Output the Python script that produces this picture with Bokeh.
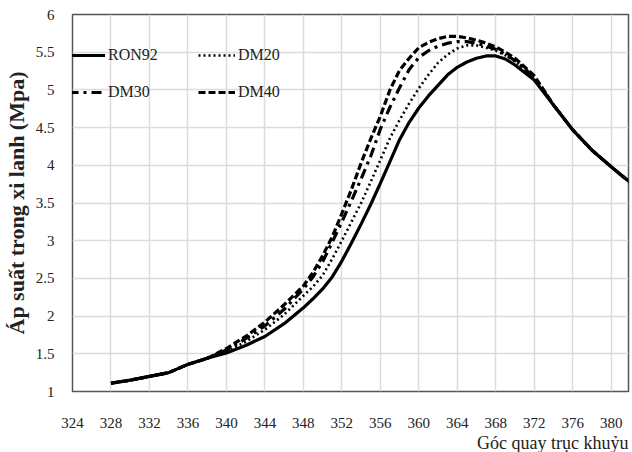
from bokeh.plotting import figure
from bokeh.models import Range1d, FixedTicker, Legend, LegendItem, Title
from bokeh.embed import file_html
from bokeh.resources import INLINE

# ---- data ----
angle = [328, 330, 332, 334, 336, 338, 340, 342, 344, 346, 348, 349, 350, 351, 352,
         353, 354, 355, 356, 357, 358, 359, 360, 361, 362, 363, 364, 365, 366, 367,
         368, 369, 370, 372, 374, 376, 378, 380, 382]

ron92 = [1.11, 1.15, 1.20, 1.25, 1.36, 1.44, 1.51, 1.61, 1.73, 1.90, 2.11, 2.23, 2.36, 2.52, 2.73,
         2.97, 3.22, 3.48, 3.76, 4.05, 4.34, 4.57, 4.76, 4.92, 5.06, 5.20, 5.30, 5.37, 5.42, 5.45,
         5.45, 5.41, 5.33, 5.13, 4.80, 4.47, 4.20, 3.98, 3.77]

dm20 = [1.11, 1.15, 1.20, 1.25, 1.36, 1.44, 1.53, 1.66, 1.82, 2.02, 2.27, 2.39, 2.54, 2.76, 3.00,
        3.25, 3.50, 3.78, 4.07, 4.36, 4.60, 4.82, 5.02, 5.20, 5.36, 5.47, 5.55, 5.59, 5.59, 5.56,
        5.52, 5.46, 5.38, 5.16, 4.80, 4.47, 4.20, 3.98, 3.77]

dm30 = [1.11, 1.15, 1.20, 1.25, 1.36, 1.44, 1.55, 1.70, 1.87, 2.09, 2.36, 2.52, 2.72, 2.98, 3.25,
        3.53, 3.82, 4.12, 4.48, 4.77, 5.03, 5.27, 5.43, 5.52, 5.58, 5.62, 5.64, 5.64, 5.62, 5.58,
        5.54, 5.47, 5.39, 5.17, 4.80, 4.47, 4.20, 3.98, 3.77]

dm40 = [1.11, 1.15, 1.20, 1.25, 1.36, 1.44, 1.57, 1.73, 1.92, 2.15, 2.40, 2.58, 2.80, 3.05, 3.36,
        3.68, 4.03, 4.35, 4.65, 5.00, 5.26, 5.42, 5.56, 5.63, 5.68, 5.71, 5.71, 5.69, 5.66, 5.62,
        5.57, 5.50, 5.42, 5.19, 4.80, 4.47, 4.20, 3.98, 3.77]

x_ticks = [324, 328, 332, 336, 340, 344, 348, 352, 356, 360, 364, 368, 372, 376, 380]
y_ticks = [1, 1.5, 2, 2.5, 3, 3.5, 4, 4.5, 5, 5.5, 6]
y_tick_labels = ["1", "1.5", "2", "2.5", "3", "3.5", "4", "4.5", "5", "5.5", "6"]

y_label = "Áp suất trong xi lanh (Mpa)"
x_label = "Góc quay trục khuỷu"

FONT = "Liberation Serif"

p = figure(width=632, height=452, output_backend="svg", toolbar_location=None,
           x_range=Range1d(324, 381.8), y_range=Range1d(1, 6),
           min_border_left=62, min_border_right=4, min_border_top=14, min_border_bottom=0)

p.background_fill_color = "white"
p.border_fill_color = "white"
p.outline_line_color = "#555555"
p.outline_line_width = 1.5

# grid
p.xgrid.ticker = FixedTicker(ticks=x_ticks)
p.ygrid.ticker = FixedTicker(ticks=y_ticks)
for g in (p.xgrid, p.ygrid):
    g.grid_line_color = "#dcdcdc"
    g.grid_line_width = 1.5

# axes
p.xaxis.ticker = FixedTicker(ticks=x_ticks)
p.yaxis.ticker = FixedTicker(ticks=y_ticks)
p.yaxis.major_label_overrides = {t: l for t, l in zip(y_ticks, y_tick_labels)}
for ax in (p.xaxis, p.yaxis):
    ax.axis_line_color = None
    ax.major_tick_line_color = None
    ax.minor_tick_line_color = None
    ax.major_label_text_font = FONT
    ax.major_label_text_font_size = "15px"
    ax.major_label_text_color = "#222222"
p.xaxis.major_label_standoff = 20
p.yaxis.major_label_standoff = 12

p.yaxis.axis_label = y_label
p.yaxis.axis_label_text_font = FONT
p.yaxis.axis_label_text_font_style = "bold"
p.yaxis.axis_label_text_font_size = "22px"
p.yaxis.axis_label_text_color = "#222222"
p.yaxis.axis_label_standoff = 4

# lines
r_ron = p.line(angle, ron92, line_color="black", line_width=3.2)
r_d20 = p.line(angle, dm20, line_color="black", line_width=2.6, line_dash="2 3")
r_d30 = p.line(angle, dm30, line_color="black", line_width=3.2, line_dash="10 5 3 5")
r_d40 = p.line(angle, dm40, line_color="black", line_width=3.2, line_dash="7 3")

def make_legend(items, loc):
    return Legend(items=items, location=loc, orientation="vertical",
                  background_fill_alpha=0, border_line_color=None,
                  label_text_font=FONT, label_text_font_size="16px", label_text_color="#222222",
                  glyph_width=37, glyph_height=20, label_height=20, label_standoff=3,
                  spacing=17, padding=0, margin=0)

leg1 = make_legend([LegendItem(label="RON92", renderers=[r_ron]),
                    LegendItem(label="DM30", renderers=[r_d30])], (-4, 289))
leg2 = make_legend([LegendItem(label="DM20", renderers=[r_d20]),
                    LegendItem(label="DM40", renderers=[r_d40])], (126, 289))
p.add_layout(leg1)
p.add_layout(leg2)

# x-axis title at lower right
p.add_layout(Title(text=x_label, align="right", text_font=FONT, text_font_size="18px",
                   text_font_style="normal", text_color="#222222",
                   standoff=0, offset=0), "below")

open("out.html", "w").write(file_html(p, INLINE))
